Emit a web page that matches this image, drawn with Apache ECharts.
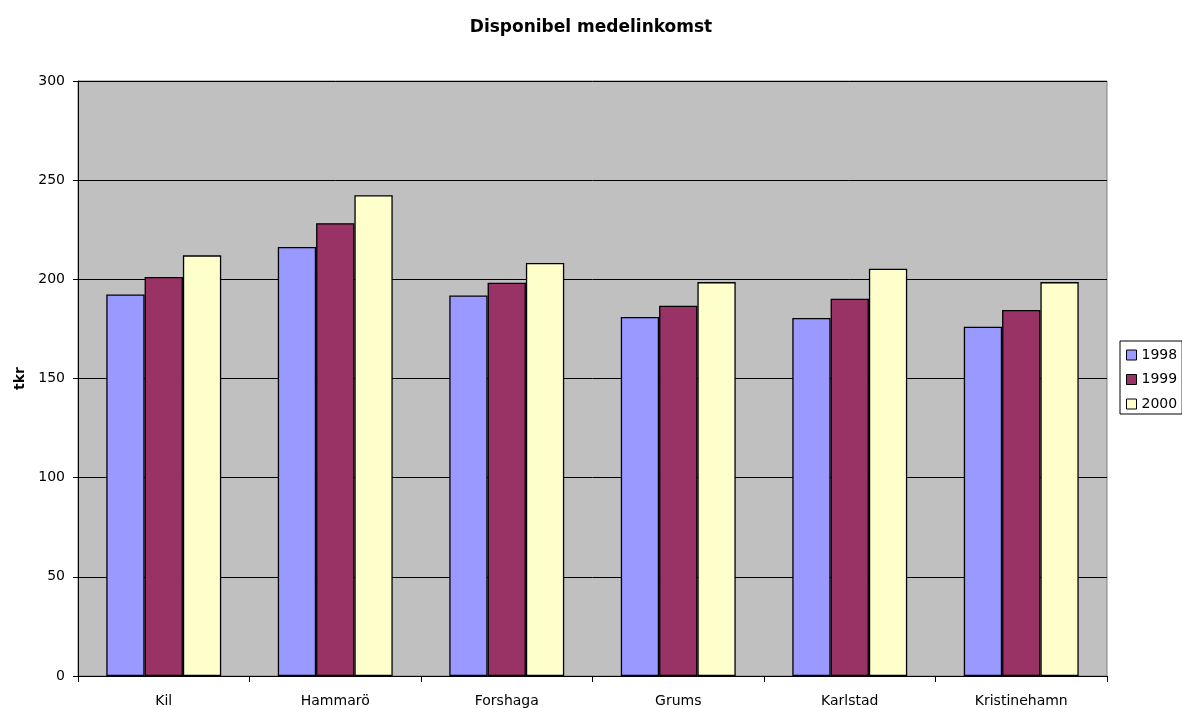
<!DOCTYPE html>
<html>
<head>
<meta charset="utf-8">
<script src="https://cdn.jsdelivr.net/npm/echarts@6/dist/echarts.min.js"></script>
<style>
html,body{margin:0;padding:0;background:#fff;}
#c{width:1182px;height:708px;}
</style>
</head>
<body>
<div id="c"></div>
<script>
const categories = ['Kil', 'Hammarö', 'Forshaga', 'Grums', 'Karlstad', 'Kristinehamn'];
const seriesNames = ['1998', '1999', '2000'];
const v1998 = [192.4, 216.3, 191.9, 181.0, 180.5, 176.1];
const v1999 = [201.2, 228.3, 198.3, 186.7, 190.2, 184.5];
const v2000 = [212.1, 242.4, 208.2, 198.6, 205.3, 198.6];
const colors = ['#9999FF', '#993366', '#FFFFCC'];
const values = [v1998, v1999, v2000];
const FONT = '"DejaVu Sans", "Liberation Sans", Arial, sans-serif';

const chart = echarts.init(document.getElementById('c'), null, {renderer: 'canvas'});
chart.setOption({
  backgroundColor: '#ffffff',
  animation: false,
  title: {
    text: 'Disponibel medelinkomst',
    left: 'center',
    top: 14,
    textStyle: {fontFamily: FONT, fontSize: 17, fontWeight: 'bold', color: '#000'}
  },
  legend: {
    orient: 'vertical',
    left: 1120,
    top: 341,
    data: seriesNames,
    itemWidth: 10,
    itemHeight: 10,
    itemGap: 10.5,
    padding: [7, 5, 3, 6],
    borderColor: '#000',
    borderWidth: 1,
    textStyle: {fontFamily: FONT, fontSize: 14, color: '#000'},
    icon: 'rect',
    itemStyle: {borderColor: '#000', borderWidth: 1}
  },
  grid: {
    left: 78,
    right: 75,
    top: 81,
    bottom: 32,
    show: true,
    backgroundColor: '#C0C0C0',
    borderColor: '#808080',
    borderWidth: 1
  },
  xAxis: {
    type: 'category',
    data: categories,
    axisLine: {lineStyle: {color: '#000', width: 1}},
    axisTick: {show: true, alignWithLabel: false, length: 6, lineStyle: {color: '#000'}},
    axisLabel: {fontFamily: FONT, fontSize: 14, color: '#000', margin: 18}
  },
  yAxis: {
    type: 'value',
    min: 0,
    max: 300,
    interval: 50,
    name: 'tkr',
    nameLocation: 'middle',
    nameGap: 45,
    nameRotate: 90,
    nameTextStyle: {fontFamily: FONT, fontSize: 14, fontWeight: 'bold', color: '#000'},
    axisLine: {show: true, lineStyle: {color: '#000', width: 1}},
    axisTick: {show: true, length: 5, lineStyle: {color: '#000'}},
    axisLabel: {fontFamily: FONT, fontSize: 14, color: '#000', margin: 13},
    splitLine: {show: true, lineStyle: {color: '#000', width: 1}}
  },
  series: seriesNames.map((n, i) => ({
    name: n,
    type: 'bar',
    data: values[i],
    barGap: '0%',
    barCategoryGap: '33%',
    itemStyle: {color: colors[i], borderColor: '#000', borderWidth: 1.3}
  }))
});
</script>
</body>
</html>
